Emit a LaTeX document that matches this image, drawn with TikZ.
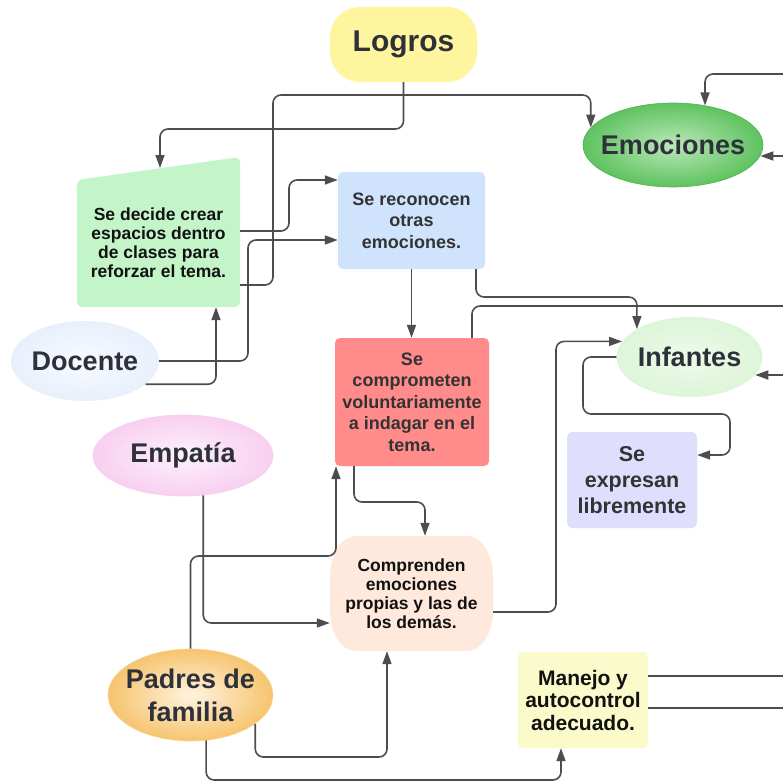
\documentclass[tikz,border=0pt]{standalone}
\usepackage{fontspec}
\setmainfont{Liberation Sans}
\usetikzlibrary{shapes.geometric,arrows.meta,calc}
\definecolor{lineC}{HTML}{4D4D4D}
\definecolor{txtD}{HTML}{2E3139}
\definecolor{txtM}{HTML}{333333}
\definecolor{txtK}{HTML}{111111}
\definecolor{logrosC}{HTML}{FFF59E}
\definecolor{decC}{HTML}{C3F5C8}
\definecolor{recoC}{HTML}{CFE3FD}
\definecolor{redC}{HTML}{FF8B8B}
\definecolor{compC}{HTML}{FFE9DC}
\definecolor{expC}{HTML}{DFDFFD}
\definecolor{manC}{HTML}{FAFACB}
\definecolor{emoIn}{HTML}{BAE8BA}
\definecolor{emoOut}{HTML}{5FC25F}
\definecolor{emoB}{HTML}{4CB44C}
\definecolor{docIn}{HTML}{F8FAFF}
\definecolor{docOut}{HTML}{E8F0FC}
\definecolor{empIn}{HTML}{FDF2FC}
\definecolor{empOut}{HTML}{F8CFF0}
\definecolor{infIn}{HTML}{EDFBEA}
\definecolor{infOut}{HTML}{DDF5D8}
\definecolor{padIn}{HTML}{FFF3DF}
\definecolor{padOut}{HTML}{F6C46E}
\newcommand\fLogros{\fontsize{30}{36}\selectfont\bfseries}
\newcommand\fBig{\fontsize{27}{33}\selectfont\bfseries}
\newcommand\fMid{\fontsize{21.5}{26}\selectfont\bfseries}
\newcommand\fMan{\fontsize{21}{22.5}\selectfont\bfseries}
\newcommand\fReco{\fontsize{18}{21.5}\selectfont\bfseries}
\newcommand\fSmall{\fontsize{17.5}{19}\selectfont\bfseries}
\tikzset{
  conn/.style={draw=lineC, line width=1.6pt, rounded corners=8pt, -{Triangle[length=13pt,width=9pt]}},
  plain/.style={draw=lineC, line width=1.6pt, rounded corners=8pt},
  box/.style={rectangle, rounded corners=5pt, align=center, inner sep=0pt},
  ell/.style={ellipse, inner sep=0pt},
  lab/.style={align=center, text=txtD, font=\fBig},
}
\begin{document}
\begin{tikzpicture}[x=1pt,y=-1pt]
\clip (0,0) rectangle (783,781);
\fill[white] (0,0) rectangle (783,781);
% shapes
\node[box, fill=logrosC, minimum width=147pt, minimum height=75pt, rounded corners=30pt, font=\fLogros, text=txtD] (Logros) at (403.5,44.5) {Logros};
\fill[decC, rounded corners=5pt] (77,180) -- (240,157) -- (240,307) -- (77,307) -- cycle;
\node[box, minimum width=163pt, minimum height=128pt, font=\fSmall, text=txtK] (dec) at (158.5,243) {Se decide crear\\espacios dentro\\de clases para\\reforzar el tema.};
\node[box, fill=recoC, minimum width=147pt, minimum height=97pt, font=\fReco, text=txtM] (reco) at (411.5,220.5) {Se reconocen\\otras\\emociones.};
\node[box, fill=redC, minimum width=154pt, minimum height=128pt, font=\fReco, text=txtM] (red) at (412,402) {Se\\comprometen\\voluntariamente\\a indagar en el\\tema.};
\node[ell, shading=radial, inner color=emoIn, outer color=emoOut, draw=emoB, line width=0.6pt, minimum width=180pt, minimum height=84pt,
  label={[lab]center:Emociones}] (Emociones) at (673,145) {};
\node[ell, shading=radial, inner color=docIn, outer color=docOut, minimum width=148pt, minimum height=80pt,
  label={[lab]center:Docente}] (Docente) at (85,361) {};
\node[ell, shading=radial, inner color=empIn, outer color=empOut, draw=empOut, line width=0.6pt, minimum width=180pt, minimum height=81pt,
  label={[lab]center:Empatía}] (Empatia) at (183,455.5) {};
\node[ell, shading=radial, inner color=infIn, outer color=infOut, minimum width=146pt, minimum height=80pt,
  label={[lab]center:Infantes}] (Infantes) at (689.5,357) {};
\node[box, fill=expC, minimum width=130pt, minimum height=96pt, font=\fMid, text=txtM] (expresan) at (632,480) {Se\\expresan\\libremente};
\fill[compC] (356,536) -- (467,536) .. controls (481.4,536) and (493,553.9) .. (493,576)
  -- (493,611) .. controls (493,633.1) and (481.4,651) .. (467,651)
  -- (356,651) .. controls (341.6,651) and (330,633.1) .. (330,611)
  -- (330,576) .. controls (330,553.9) and (341.6,536) .. (356,536) -- cycle;
\node[box, minimum width=163pt, minimum height=115pt, font=\fSmall, text=txtK] (Comprenden) at (411.5,593.5) {Comprenden\\emociones\\propias y las de\\los demás.};
\node[ell, shading=radial, inner color=padIn, outer color=padOut, draw=padOut!70!white, line width=0.6pt, minimum width=165pt, minimum height=92pt,
  label={[lab]center:Padres de\\familia}] (Padres) at (190.5,695) {};
\node[box, fill=manC, minimum width=130pt, minimum height=96pt, font=\fMan, text=txtK] (Manejo) at (583,700) {Manejo y\\autocontrol\\adecuado.};
% free ends
\coordinate (dectop) at (160,168);
\coordinate (offA) at (790,74);
\coordinate (offB) at (790,156);
\coordinate (offC) at (790,375);
\coordinate (offD) at (790,306);
\coordinate (offE) at (790,676);
\coordinate (offF) at (790,708);
% connectors
\draw[conn] (Logros.south) -- (Logros.south |- 0,129) -| (dectop);
\draw[conn] (dec.east |- 0,285) -| (273,95) -| (Emociones.168);
\draw[conn] (dec.east |- 0,231) -| (289,180) -- (reco.west |- 0,180);
\draw[conn] (Docente.east) -| (248,240) -- (reco.west |- 0,240);
\draw[conn] (Docente.-21) -| (dec.south -| 216,0);
\draw[conn] (reco.south) -- (reco.south |- red.north);
\draw[conn] (reco.south -| 476,0) -- (476,297) -| (Infantes.152);
\draw[plain] (red.north -| 472,0) |- (offD);
\draw[conn] (red.south -| 354,0) -- (354,502) -| (Comprenden.north -| 425,0);
\draw[conn] (Padres.north) -- (Padres.north |- 0,556) -| (red.south -| 336,0);
\draw[conn] (Empatia.-63) |- (Comprenden.west |- 0,623);
\draw[conn] (Padres.-24) |- (387,757) -- (Comprenden.south -| 387,0);
\draw[conn] (Padres.-71) |- (561,780) -- (Manejo.south -| 561,0);
\draw[conn] (Comprenden.east |- 0,612) -- (556,612) |- (Infantes.167);
\draw[conn] (Infantes.west) -| (583,414) -| (730,455) -- (expresan.east |- 0,455);
\draw[conn] (offA) -| (Emociones.51);
\draw[conn] (offB) -- (offB -| Emociones.-7);
\draw[conn] (offC) -- (offC -| Infantes.-15);
\draw[plain] (Manejo.east |- 0,676) -- (offE);
\draw[plain] (Manejo.east |- 0,708) -- (offF);
\end{tikzpicture}
\end{document}
